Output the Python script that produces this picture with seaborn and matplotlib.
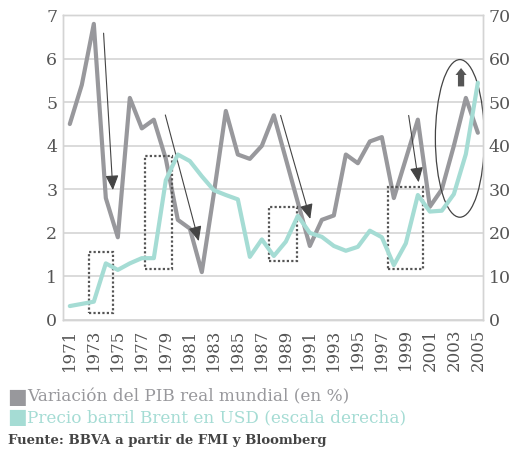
import numpy as np
import pandas as pd
import seaborn as sns
import matplotlib.pyplot as plt
from matplotlib.patches import Rectangle, Ellipse

years = list(range(1971, 2006))
pib = [4.5, 5.4, 6.8, 2.8, 1.9, 5.1, 4.4, 4.6, 3.7, 2.3,
       2.1, 1.1, 2.9, 4.8, 3.8, 3.7, 4.0, 4.7, 3.7, 2.7,
       1.7, 2.3, 2.4, 3.8, 3.6, 4.1, 4.2, 2.8, 3.7, 4.6,
       2.6, 3.0, 4.0, 5.1, 4.3]
brent = [3.2, 3.7, 4.2, 13.0, 11.5, 13.0, 14.2, 14.2, 32.1, 38.0,
         36.5, 33.0, 29.8, 28.7, 27.7, 14.5, 18.5, 14.7, 18.0, 23.9,
         20.0, 19.1, 17.0, 15.9, 16.8, 20.5, 19.0, 12.6, 17.6, 28.7,
         24.9, 25.1, 28.9, 38.1, 54.5]
xlabels = [str(y) for y in range(1971, 2006, 2)]

gris = '#98989c'
verde = '#a5dcd4'
texto = '#555555'

df = pd.DataFrame({'year': years, 'pib': pib, 'brent': brent})

sns.set_style('white')
plt.rcParams['font.family'] = ['DejaVu Serif']
plt.rcParams['ytick.labelsize'] = 12.5

fig = plt.figure(figsize=(5.11, 4.57), dpi=100)
ax = fig.add_axes([0.123, 0.2998, 0.822, 0.667])
sns.lineplot(data=df, x='year', y='pib', ax=ax, color=gris, lw=3.0, zorder=3)
ax.set_xlim(1970.42, 2005.42)
ax.set_ylim(0, 7)
ax.set_yticks(range(0, 8))
ax.set_xticks(range(1971, 2006, 2))
ax.set_xticklabels(xlabels, rotation='vertical', fontsize=12, color=texto)

ax2 = ax.twinx()
sns.lineplot(data=df, x='year', y='brent', ax=ax2, color=verde, lw=3.0, zorder=3)
ax2.set_ylim(0, 70)
ax2.set_yticks(range(0, 80, 10))

ax.grid(axis='y', color='#d4d4d4', lw=1.2)
ax.set_axisbelow(True)
for a in (ax, ax2):
    a.set_xlabel('')
    a.set_ylabel('')
    for s in a.spines.values():
        s.set_color('#d4d4d4')
        s.set_linewidth(1.0)
    a.tick_params(axis='y', length=0, colors=texto, pad=4)
ax.tick_params(axis='x', length=0, pad=6)

# annotations: dotted boxes, arrows, ellipse
boxes = [(1972.6, 0.17, 2.0, 1.4), (1977.3, 1.17, 2.2, 2.6),
         (1987.6, 1.36, 2.3, 1.24), (1997.5, 1.17, 2.9, 1.88)]
for x0, y0, w, h in boxes:
    ax.add_patch(Rectangle((x0, y0), w, h, fill=False, ls=(0, (1, 1)),
                           ec='#555555', lw=1.6, zorder=4))
arrows = [((1973.8, 6.65), (1974.6, 2.92)), ((1978.9, 4.77), (1981.8, 1.75)),
          ((1988.5, 4.76), (1991.1, 2.26)), ((1999.2, 4.76), (2000.1, 3.1))]
for p0, p1 in arrows:
    ax.annotate('', xy=p1, xytext=p0, zorder=5,
                arrowprops=dict(arrowstyle='-|>,head_length=0.9,head_width=0.4',
                                color='#444444', lw=0.8))
ax.annotate('', xy=(2003.6, 5.85), xytext=(2003.6, 5.3), zorder=5,
            arrowprops=dict(arrowstyle='simple,head_length=0.5,head_width=0.8,tail_width=0.45',
                            color='#555555', lw=0))
ax.add_patch(Ellipse((2003.5, 4.17), 4.08, 3.62, fill=False, ec='#444444',
                     lw=0.9, zorder=5))

# legend + source
fig.text(0.014, 0.131, '\u25a0', color=gris, fontsize=15, va='center')
fig.text(0.053, 0.131, 'Variación del PIB real mundial (en %)', color=gris,
         fontsize=12.2, va='center')
fig.text(0.014, 0.086, '\u25a0', color=verde, fontsize=15, va='center')
fig.text(0.053, 0.086, 'Precio barril Brent en USD (escala derecha)', color=verde,
         fontsize=12.2, va='center')
fig.text(0.015, 0.037, 'Fuente: BBVA a partir de FMI y Bloomberg', color='#444444',
         fontsize=9.5, fontweight='bold', va='center')

fig.savefig('out.png', dpi=100)
